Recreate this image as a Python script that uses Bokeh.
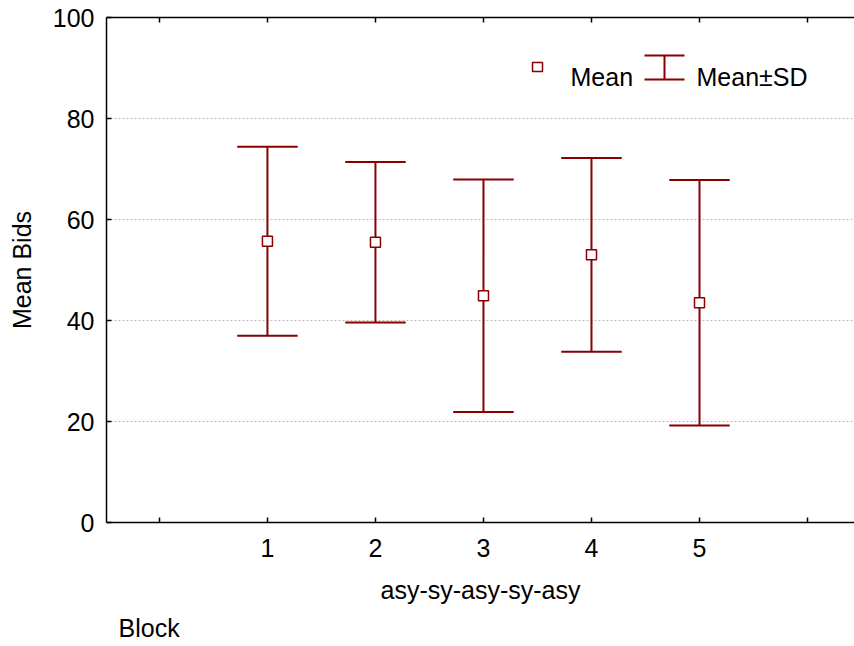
from bokeh.plotting import figure
from bokeh.models import (Range1d, FixedTicker, LinearAxis, Label, PolyAnnotation, Title)
from bokeh.embed import file_html
from bokeh.resources import INLINE

# ---- data ----
blocks = [1, 2, 3, 4, 5]
means = [55.7, 55.5, 44.9, 53.0, 43.5]
sds = [18.7, 15.9, 23.0, 19.2, 24.3]
edge_ticks = [0, 6]
all_x_ticks = [0, 1, 2, 3, 4, 5, 6]
y_ticks = [0, 20, 40, 60, 80, 100]
grid_ticks = [20, 40, 60, 80]
x_title = "asy-sy-asy-sy-asy"
y_title = "Mean Bids"
legend_mean = "Mean"
legend_sd = "Mean±SD"
footer = "Block"

lower = [m - s for m, s in zip(means, sds)]
upper = [m + s for m, s in zip(means, sds)]
cap = 0.28
cap_left = [b - cap for b in blocks]
cap_right = [b + cap for b in blocks]

RED = "#880000"
FONT = "Liberation Sans"
FS = "25px"

p = figure(width=854, height=646, output_backend="svg", toolbar_location=None,
           x_range=Range1d(-0.49, 6.435), y_range=Range1d(0, 100),
           min_border_left=106, min_border_right=0, min_border_top=17,
           min_border_bottom=123, x_axis_location=None, y_axis_location=None)
p.outline_line_color = None
p.background_fill_color = "white"
p.border_fill_color = "white"

# axes
left = LinearAxis(ticker=FixedTicker(ticks=y_ticks), axis_label=y_title)
bottom = LinearAxis(ticker=FixedTicker(ticks=blocks, minor_ticks=edge_ticks), axis_label=x_title)
top = LinearAxis(ticker=FixedTicker(ticks=[], minor_ticks=all_x_ticks))
for ax in (left, bottom, top):
    ax.axis_line_color = "black"
    ax.axis_line_width = 1.5
    ax.major_tick_line_color = "black"
    ax.major_tick_line_width = 1.5
    ax.major_tick_in = 5
    ax.major_tick_out = 0
    ax.minor_tick_line_color = "black"
    ax.minor_tick_line_width = 1.5
    ax.minor_tick_in = 5
    ax.minor_tick_out = 0
    ax.major_label_text_color = "black"
    ax.major_label_text_font = FONT
    ax.major_label_text_font_size = FS
    ax.axis_label_text_font = FONT
    ax.axis_label_text_font_style = "normal"
    ax.axis_label_text_color = "black"
    ax.axis_label_text_font_size = FS
left.minor_tick_line_color = None
left.major_label_standoff = 12
left.axis_label_standoff = 14
bottom.major_label_standoff = 16
bottom.axis_label_standoff = 16
p.add_layout(left, "left")
p.add_layout(bottom, "below")
p.add_layout(top, "above")

p.add_layout(Title(text=footer, align="left", offset=12, text_font=FONT,
                   text_font_size=FS, text_font_style="normal", text_color="black",
                   standoff=10), "below")

# grid
p.xgrid.grid_line_color = None
p.ygrid.ticker = FixedTicker(ticks=grid_ticks)
p.ygrid.grid_line_color = "#bbbbbb"
p.ygrid.grid_line_dash = "2 2"
p.ygrid.grid_line_width = 1

# error bars
p.segment(x0=blocks, y0=lower, x1=blocks, y1=upper, line_color=RED, line_width=2)
p.segment(x0=cap_left, y0=upper, x1=cap_right, y1=upper, line_color=RED, line_width=2)
p.segment(x0=cap_left, y0=lower, x1=cap_right, y1=lower, line_color=RED, line_width=2)
p.scatter(x=blocks, y=means, marker="square", size=10, fill_color="white",
          line_color=RED, line_width=1.5)

# legend (drawn manually, screen units relative to frame)
p.add_layout(PolyAnnotation(xs=[426, 436, 436, 426], ys=[460, 460, 451, 451],
                            xs_units="screen", ys_units="screen",
                            fill_color="white", fill_alpha=1, line_color=RED,
                            line_alpha=1, line_width=1.5))
p.add_layout(PolyAnnotation(xs=[538, 578, 558, 558, 538, 578, 558, 558],
                            ys=[467, 467, 467, 443, 443, 443, 443, 467],
                            xs_units="screen", ys_units="screen",
                            fill_alpha=0, line_color=RED, line_alpha=1, line_width=2))
for txt, xx in ((legend_mean, 464), (legend_sd, 590)):
    p.add_layout(Label(x=xx, y=446, x_units="screen", y_units="screen", text=txt,
                       text_font=FONT, text_font_size=FS, text_color="black",
                       text_baseline="alphabetic"))

open("out.html", "w").write(file_html(p, INLINE))
